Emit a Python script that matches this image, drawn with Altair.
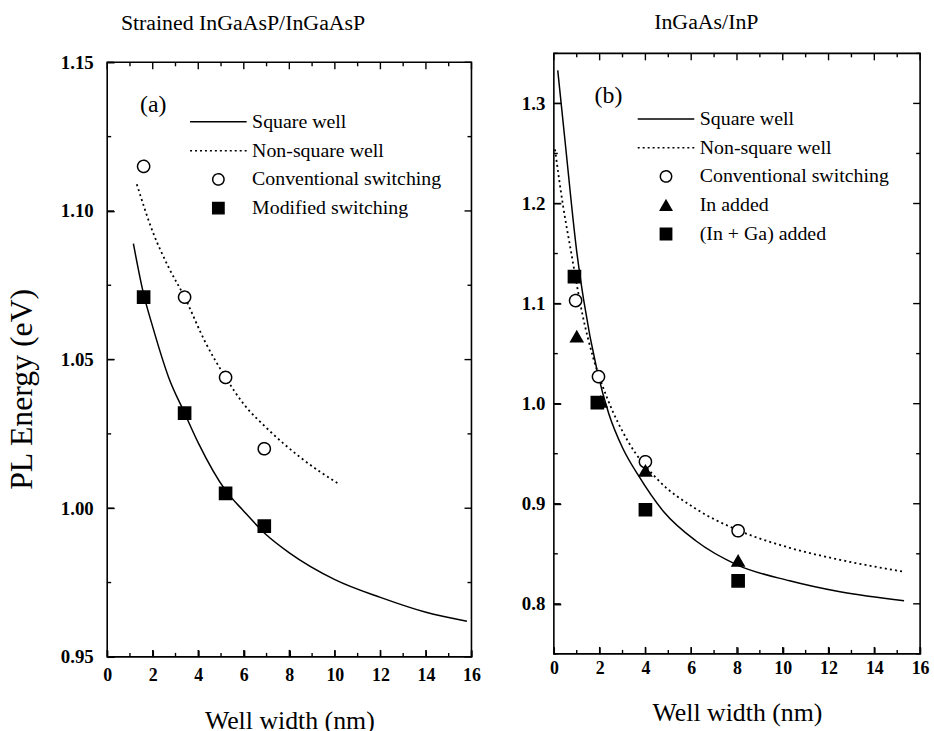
import altair as alt
import pandas as pd

FONT = "Liberation Serif"

# ---------------- Panel (a): Strained InGaAsP/InGaAsP ----------------
a_sq_x = [1.15, 1.6, 2.0, 2.7, 3.4, 4.0, 5.2, 6.0, 7.0, 8.0, 10.0, 12.0, 14.0, 15.8]
a_sq_y = [1.089, 1.072, 1.061, 1.044, 1.032, 1.022, 1.006, 0.999, 0.991, 0.985, 0.976, 0.970, 0.965, 0.962]
a_ns_x = [1.3, 2.0, 2.7, 3.4, 4.3, 5.2, 6.0, 7.0, 8.5, 10.2]
a_ns_y = [1.109, 1.093, 1.081, 1.071, 1.056, 1.044, 1.035, 1.027, 1.017, 1.008]
a_conv_x = [1.6, 3.4, 5.2, 6.9]
a_conv_y = [1.115, 1.071, 1.044, 1.020]
a_mod_x = [1.6, 3.4, 5.2, 6.9]
a_mod_y = [1.071, 1.032, 1.005, 0.994]
a_names = ["Square well", "Non-square well", "Conventional switching", "Modified switching"]

# ---------------- Panel (b): InGaAs/InP ----------------
b_sq_x = [0.17, 0.5, 1.0, 1.3, 1.9, 2.4, 3.0, 3.7, 4.8, 6.2, 8.0, 10.3, 12.5, 15.3]
b_sq_y = [1.333, 1.26, 1.152, 1.104, 1.032, 0.99, 0.956, 0.928, 0.892, 0.863, 0.839, 0.823, 0.812, 0.803]
b_ns_x = [0.05, 0.4, 0.75, 1.26, 1.73, 2.34, 3.25, 4.5, 6.2, 8.0, 10.3, 12.5, 15.3]
b_ns_y = [1.254, 1.198, 1.152, 1.088, 1.045, 1.005, 0.962, 0.925, 0.895, 0.874, 0.856, 0.844, 0.832]
b_conv_x = [0.95, 1.95, 4.0, 8.05]
b_conv_y = [1.103, 1.027, 0.942, 0.873]
b_in_x = [1.0, 2.05, 4.0, 8.05]
b_in_y = [1.067, 1.002, 0.933, 0.843]
b_inga_x = [0.9, 1.9, 4.0, 8.05]
b_inga_y = [1.127, 1.001, 0.894, 0.823]
b_names = ["Square well", "Non-square well", "Conventional switching", "In added", "(In + Ga) added"]

# tick values
x_major = [0, 2, 4, 6, 8, 10, 12, 14, 16]
x_minor = [1, 3, 5, 7, 9, 11, 13, 15]
a_y_major = [0.95, 1.00, 1.05, 1.10, 1.15]
a_y_minor = [0.975, 1.025, 1.075, 1.125]
b_y_major = [0.8, 0.9, 1.0, 1.1, 1.2, 1.3]
b_y_minor = [0.75, 0.85, 0.95, 1.05, 1.15, 1.25, 1.35]

LINE_PATH = "M-5,0H5"
MAJOR, MINOR = 7, 4
XDOM = [0, 16]


def label_axis(orient, values, fmt, label_pad, label_size, title=None,
               title_size=26, title_pad=0, title_y=None):
    kw = dict(orient=orient, values=values, ticks=True, tickSize=MAJOR,
              offset=-MAJOR, tickColor="black", tickWidth=1.4, domain=False,
              grid=False, labels=True, labelFlush=False, labelOverlap=False,
              format=fmt, labelPadding=label_pad, labelFontSize=label_size,
              labelFontWeight="bold", labelColor="black", labelFont=FONT)
    if title:
        kw.update(title=title, titleFontSize=title_size, titleFont=FONT,
                  titleFontWeight="normal", titleColor="black", titlePadding=title_pad)
        if title_y is not None:
            kw.update(titleY=title_y)
    else:
        kw.update(title=None)
    return alt.Axis(**kw)


def x_ticks(values, length, side, xs, ys, ydom, h):
    d = length * (ydom[1] - ydom[0]) / h
    y0 = ydom[0] if side == "bottom" else ydom[1]
    y1 = y0 + d if side == "bottom" else y0 - d
    return alt.Chart(pd.DataFrame({"v": values})).mark_rule(
        color="black", strokeWidth=1.4).encode(
        x=alt.X("v:Q", scale=xs),
        y=alt.YDatum(y0, type="quantitative", scale=ys),
        y2=alt.Y2Datum(y1),
    )


def y_ticks(values, length, side, xs, ys, w):
    d = length * (XDOM[1] - XDOM[0]) / w
    x0 = XDOM[0] if side == "left" else XDOM[1]
    x1 = x0 + d if side == "left" else x0 - d
    return alt.Chart(pd.DataFrame({"v": values})).mark_rule(
        color="black", strokeWidth=1.4).encode(
        y=alt.Y("v:Q", scale=ys),
        x=alt.XDatum(x0, type="quantitative", scale=xs),
        x2=alt.X2Datum(x1),
    )


def panel(sq_x, sq_y, ns_x, ns_y, pts, names, shapes, fills, dashes,
          ydom, y_major, y_minor, yfmt, w, h, ytitle, xpad, ypad, xtpad,
          legend_xy, label_txt, label_xy, title):
    xs = alt.Scale(domain=XDOM, nice=False, zero=False)
    ys = alt.Scale(domain=ydom, nice=False, zero=False)
    sq = pd.DataFrame({"x": sq_x, "y": sq_y})
    ns = pd.DataFrame({"x": ns_x, "y": ns_y})

    ax_bottom = label_axis("bottom", x_major, "d", xpad, 18,
                           title="Well width (nm)", title_size=26, title_pad=xtpad)
    if ytitle:
        ax_left = label_axis("left", y_major, yfmt, ypad, 19, title=ytitle,
                             title_size=32, title_pad=22, title_y=329)
    else:
        ax_left = label_axis("left", y_major, yfmt, ypad, 19)

    solid = alt.Chart(sq).mark_line(color="black", strokeWidth=1.5,
                                    interpolate="monotone").encode(
        x=alt.X("x:Q", scale=xs, axis=ax_bottom),
        y=alt.Y("y:Q", scale=ys, axis=ax_left),
    )
    dotted = alt.Chart(ns).mark_line(color="black", strokeWidth=1.8,
                                     strokeDash=[2, 3.2],
                                     interpolate="monotone").encode(
        x=alt.X("x:Q", scale=xs),
        y=alt.Y("y:Q", scale=ys),
    )
    leg = alt.Legend(title=None, orient="none", legendX=legend_xy[0],
                     legendY=legend_xy[1], labelFont=FONT, labelFontSize=20,
                     labelColor="black", symbolSize=130, symbolStrokeWidth=1.5,
                     symbolStrokeColor="black", rowPadding=9, labelOffset=24,
                     padding=0, labelLimit=400)
    points = alt.Chart(pts).mark_point(stroke="black", strokeWidth=1.5,
                                       size=150, opacity=1).encode(
        x=alt.X("x:Q", scale=xs),
        y=alt.Y("y:Q", scale=ys),
        shape=alt.Shape("series:N", scale=alt.Scale(domain=names, range=shapes), legend=leg),
        fill=alt.Fill("series:N", scale=alt.Scale(domain=names, range=fills), legend=leg),
        stroke=alt.Stroke("series:N", scale=alt.Scale(domain=names, range=["black"] * len(names)), legend=leg),
        strokeDash=alt.StrokeDash("series:N", scale=alt.Scale(domain=names, range=dashes), legend=leg),
    )
    lbl = alt.Chart(alt.Data(values=[{}])).mark_text(
        text=label_txt, font=FONT, fontSize=24, align="left", baseline="middle",
        color="black").encode(x=alt.value(label_xy[0]), y=alt.value(label_xy[1]))

    ticks = [
        x_ticks(x_major, MAJOR, "bottom", xs, ys, ydom, h),
        x_ticks(x_minor, MINOR, "bottom", xs, ys, ydom, h),
        x_ticks(x_major, MAJOR, "top", xs, ys, ydom, h),
        x_ticks(x_minor, MINOR, "top", xs, ys, ydom, h),
        y_ticks(y_major, MAJOR, "left", xs, ys, w),
        y_ticks(y_minor, MINOR, "left", xs, ys, w),
        y_ticks(y_major, MAJOR, "right", xs, ys, w),
        y_ticks(y_minor, MINOR, "right", xs, ys, w),
    ]
    return alt.layer(solid, dotted, points, lbl, *ticks).properties(
        width=w, height=h, title=title)


a_pts = pd.DataFrame({
    "x": a_conv_x + a_mod_x,
    "y": a_conv_y + a_mod_y,
    "series": [a_names[2]] * len(a_conv_x) + [a_names[3]] * len(a_mod_x),
})
b_pts = pd.DataFrame({
    "x": b_conv_x + b_in_x + b_inga_x,
    "y": b_conv_y + b_in_y + b_inga_y,
    "series": [b_names[2]] * len(b_conv_x) + [b_names[3]] * len(b_in_x)
              + [b_names[4]] * len(b_inga_x),
})

left_title = alt.TitleParams(
    "Strained InGaAsP/InGaAsP", font=FONT, fontSize=22, fontWeight="normal",
    color="black", anchor="middle", frame="bounds", offset=19)
right_title = alt.TitleParams(
    "InGaAs/InP", font=FONT, fontSize=22, fontWeight="normal", color="black",
    anchor="middle", frame="bounds", offset=19, dx=-19)

left = panel(a_sq_x, a_sq_y, a_ns_x, a_ns_y, a_pts, a_names,
             [LINE_PATH, LINE_PATH, "circle", "square"],
             ["transparent", "transparent", "white", "black"],
             [[1, 0], [2, 3], [1, 0], [1, 0]],
             [0.95, 1.15], a_y_major, a_y_minor, ".2f", 367, 599,
             "PL Energy (eV)", 10, 14, 23, (102, 59), "(a)", (33, 43),
             left_title)

right = panel(b_sq_x, b_sq_y, b_ns_x, b_ns_y, b_pts, b_names,
              [LINE_PATH, LINE_PATH, "circle", "triangle-up", "square"],
              ["transparent", "transparent", "white", "black", "black"],
              [[1, 0], [2, 3], [1, 0], [1, 0], [1, 0]],
              [0.75, 1.35], b_y_major, b_y_minor, ".1f", 369, 605,
              None, 6, 9, 22, (103, 56), "(b)", (41, 43),
              right_title)

# empty strip that lowers panel (a) by 10 px relative to panel (b)
spacer = alt.Chart(alt.Data(values=[{"s": 0}])).mark_point(opacity=0).properties(
    width=367, height=1, view=alt.ViewBackground(stroke="transparent"))
left_col = alt.vconcat(spacer, left, spacing=8, bounds="flush")

chart = alt.hconcat(left_col, right, spacing=39).resolve_scale(
    shape="independent", fill="independent", stroke="independent",
    strokeDash="independent"
).properties(
    padding={"left": 4, "top": 7, "right": 4, "bottom": 4},
    background="white",
).configure_view(stroke="black", strokeWidth=1.6)

chart.save("out.html", embed_options={"renderer": "svg", "actions": False})
